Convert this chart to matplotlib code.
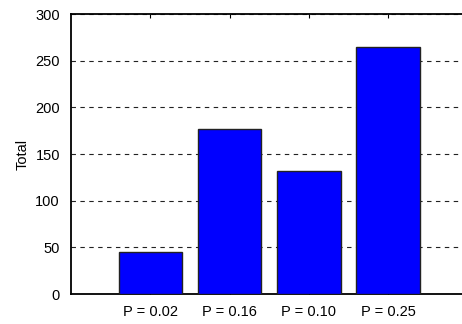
import matplotlib.pyplot as plt
import numpy as np

labels = ["P = 0.02", "P = 0.16", "P = 0.10", "P = 0.25"]
totals = [45, 177, 132, 265]

plt.rcParams["font.family"] = ["Liberation Sans", "DejaVu Sans"]
plt.rcParams["font.size"] = 10.5

fig = plt.figure(figsize=(4.62, 3.24), dpi=100)
ax = fig.add_axes([71 / 462, 30 / 324, 396.5 / 462, 280 / 324])

x = np.arange(1, len(totals) + 1)
ax.bar(x, totals, width=0.8, color="#0000ff", edgecolor="#222222", linewidth=1, zorder=3)

ax.set_xlim(0, 5)
ax.set_ylim(0, 300)
ax.set_xticks(x)
ax.set_xticklabels(labels)
ax.set_yticks(range(0, 301, 50))
ax.set_ylabel("Total", labelpad=4)
ax.yaxis.grid(True, linestyle=(0, (4, 4)), color="#222222", linewidth=0.8, zorder=0)
ax.tick_params(direction="in", length=3, top=True, width=0.8)
ax.tick_params(axis="y", length=0, pad=8)
ax.tick_params(axis="x", pad=8)
ax.spines["right"].set_visible(False)
for s in ["left", "bottom", "top"]:
    ax.spines[s].set_linewidth(1.3)

plt.savefig("out.png", dpi=100)
